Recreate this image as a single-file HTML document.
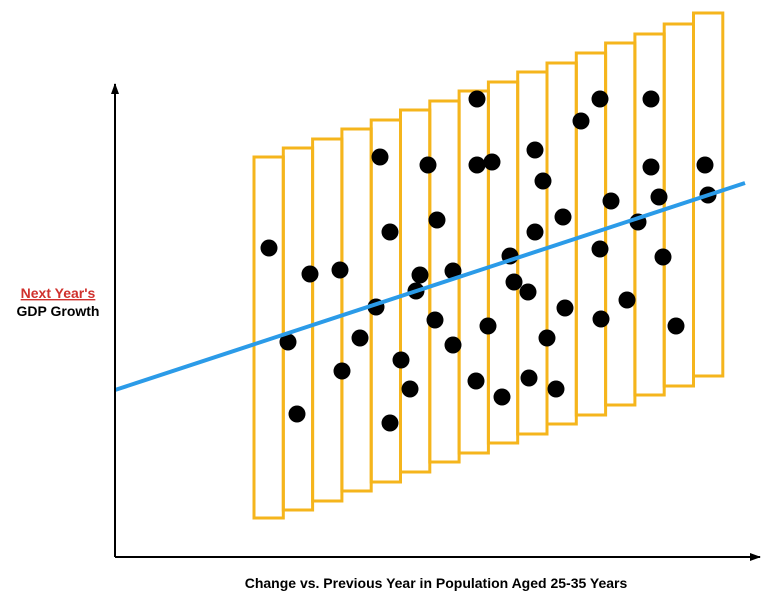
<!DOCTYPE html>
<html><head><meta charset="utf-8"><style>
body{margin:0;background:#fff;}
svg{display:block;font-family:"Liberation Sans",sans-serif;}
</style></head><body>
<svg id="chart" width="769" height="606" viewBox="0 0 769 606">
<defs><marker id="ah" markerUnits="userSpaceOnUse" markerWidth="12" markerHeight="12" refX="10" refY="6" orient="auto"><path d="M0,2 L11,6 L0,10 Z" fill="#000"/></marker></defs>
<g id="bins"></g>
<g id="dots"></g>
<g id="trend"></g>
<line x1="115" y1="557" x2="115" y2="84" stroke="#000" stroke-width="2" marker-end="url(#ah)"/>
<line x1="115" y1="557" x2="760" y2="557" stroke="#000" stroke-width="2" marker-end="url(#ah)"/>
<text x="58" y="298" text-anchor="middle" font-size="14" font-weight="bold" fill="#d0312d" text-decoration="underline">Next Year's</text>
<text x="58" y="316" text-anchor="middle" font-size="14" font-weight="bold" fill="#000">GDP Growth</text>
<text x="436" y="588" text-anchor="middle" font-size="14" font-weight="bold" fill="#000">Change vs. Previous Year in Population Aged 25-35 Years</text>
</svg>
<script>
// data in axis units (x: 0..640 along x-axis, y: 0..470 up from x-axis)
const binIndex = [0,1,2,3,4,5,6,7,8,9,10,11,12,13,14,15];
const binLow = [39,47,56,66,75,85,95,104,114,123,133,142,152,162,171,181];
const binHigh = [400,409,418,428,437,447,456,466,475,485,494,504,514,523,533,544];
const pointX = [154,195,225,173,182,265,275,261,245,227,286,295,275,313,322,305,301,338,320,338,362,377,362,395,399,413,373,361,387,420,428,448,420,450,432,414,441,485,466,496,485,512,486,536,536,544,523,548,561,590,593];
const pointY = [309,283,287,215,143,400,325,250,219,186,197,168,134,392,337,282,266,286,237,212,458,395,392,301,275,265,231,176,160,407,376,340,325,249,219,179,168,458,436,356,308,257,238,458,390,360,335,300,231,392,362];
const trendX = [0,630];
const trendY = [167,374];
const X0=115, Y0=557, binW=29.3, binStart=139;
const sx = v => X0 + v;
const sy = v => Y0 - v;
const ns="http://www.w3.org/2000/svg";
const bins=document.getElementById('bins');
binIndex.forEach((b,i)=>{
  const r=document.createElementNS(ns,'rect');
  r.setAttribute('x', sx(binStart + b*binW));
  r.setAttribute('y', sy(binHigh[i]));
  r.setAttribute('width', binW);
  r.setAttribute('height', binHigh[i]-binLow[i]);
  r.setAttribute('fill','none');
  r.setAttribute('stroke','#f5b51c');
  r.setAttribute('stroke-width','3');
  
  
  bins.appendChild(r);
});
const dots=document.getElementById('dots');
pointX.forEach((x,i)=>{
  const c=document.createElementNS(ns,'circle');
  c.setAttribute('cx', sx(x));
  c.setAttribute('cy', sy(pointY[i]));
  c.setAttribute('r', 8.5);
  c.setAttribute('fill','#000');
  
  
  dots.appendChild(c);
});
const l=document.createElementNS(ns,'line');
l.setAttribute('x1', sx(trendX[0])); l.setAttribute('y1', sy(trendY[0]));
l.setAttribute('x2', sx(trendX[1])); l.setAttribute('y2', sy(trendY[1]));
l.setAttribute('stroke','#2b9be8'); l.setAttribute('stroke-width','4');


document.getElementById('trend').appendChild(l);
</script>
</body></html>
